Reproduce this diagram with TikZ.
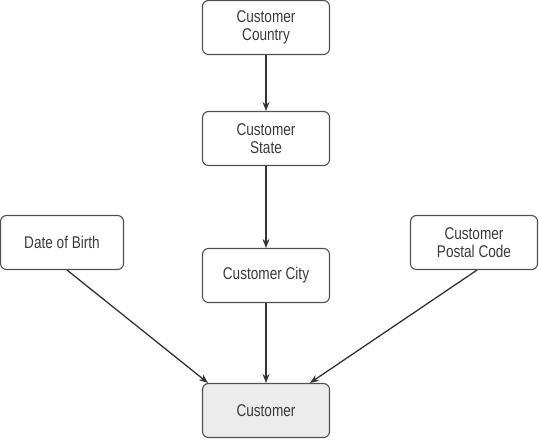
\documentclass[tikz,border=0pt]{standalone}
\usepackage{fontspec}
\setmainfont{Liberation Sans}[FakeStretch=0.8]
\usetikzlibrary{arrows.meta}
\definecolor{edge}{HTML}{505050}
\definecolor{txt}{HTML}{3A3A3A}
\definecolor{custfill}{HTML}{ECECEC}
\begin{document}
\begin{tikzpicture}[x=1pt,y=-1pt,
  box/.style={draw=edge,line width=1.1pt,rounded corners=6pt,minimum width=127pt,minimum height=54pt,
    align=center,text=txt,font=\fontsize{17}{18.5}\selectfont,inner sep=0pt},
  arr/.style={draw=black!80,line width=1.3pt,-{Stealth[length=9pt,width=7pt]}}]
\useasboundingbox (0,0) rectangle (539,440);
\node[box] (country) at (266,27.5) {Customer\\Country};
\node[box] (state) at (266,138.5) {Customer\\State};
\node[box] (city) at (266,275.5) {Customer City};
\node[box,minimum width=123pt] (dob) at (62,242.5) {Date of Birth};
\node[box] (pc) at (474,242.5) {Customer\\Postal Code};
\node[box,fill=custfill] (cust) at (266,410.5) {Customer};
\draw[arr] (country) -- (state);
\draw[arr] (state) -- (city);
\draw[arr] (city) -- (cust);
\draw[arr] ([xshift=5pt]dob.south) -- ([xshift=-58pt]cust.north);
\draw[arr] ([xshift=3pt]pc.south) -- ([xshift=44pt]cust.north);
\end{tikzpicture}
\end{document}
